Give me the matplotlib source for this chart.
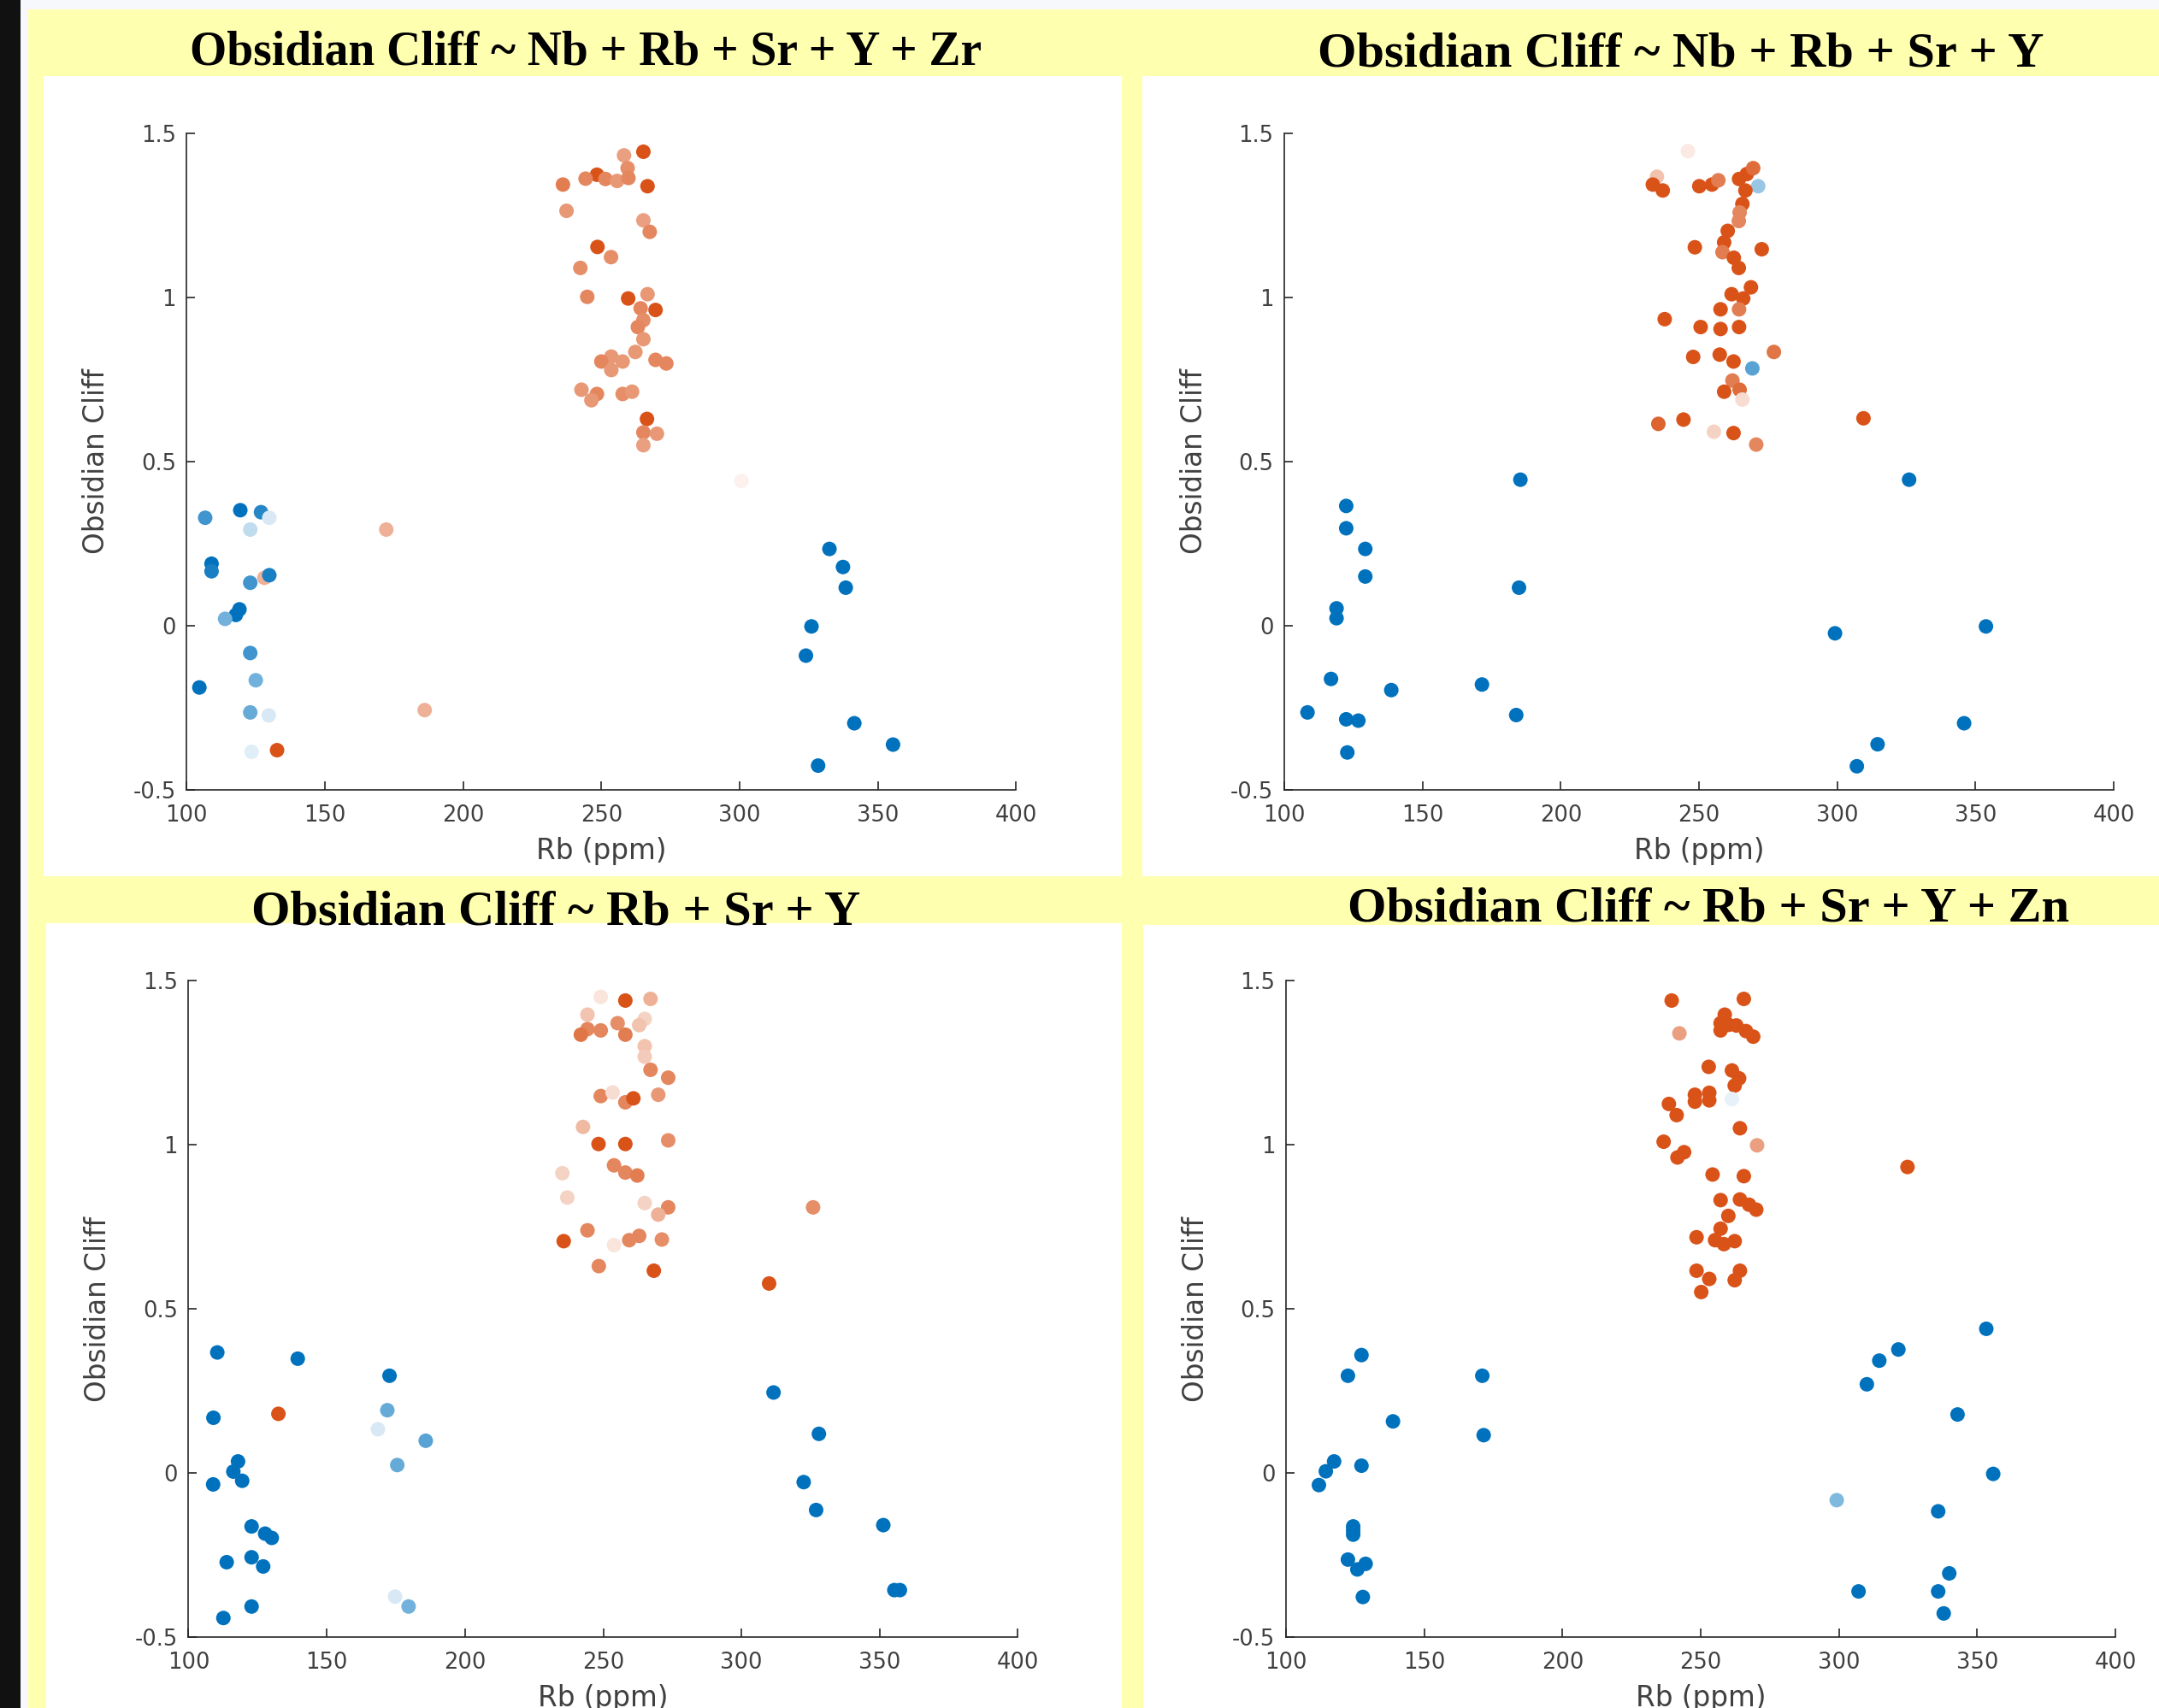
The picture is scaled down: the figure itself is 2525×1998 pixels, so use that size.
import matplotlib
matplotlib.use("Agg")
import matplotlib.pyplot as plt
from matplotlib.colors import LinearSegmentedColormap
from matplotlib.patches import Rectangle

W, H = 2525, 1998

# shared axis setup
rb_ticks = [100, 150, 200, 250, 300, 350, 400]
oc_ticks = [-0.5, 0, 0.5, 1, 1.5]
oc_tick_labels = ["-0.5", "0", "0.5", "1", "1.5"]

titles = [
    "Obsidian Cliff ~ Nb + Rb + Sr + Y + Zr",
    "Obsidian Cliff ~ Nb + Rb + Sr + Y",
    "Obsidian Cliff ~ Rb + Sr + Y",
    "Obsidian Cliff ~ Rb + Sr + Y + Zn",
]

# score: -1 = surely not Obsidian Cliff (blue), +1 = surely Obsidian Cliff (orange)

# panel 1
p1_rb = [265.2, 258.2, 259.5, 248.4, 244.3, 236.1, 251.5, 255.7, 259.8, 266.7,
         237.4, 265.2, 267.5, 248.6, 253.5, 242.4, 244.9, 259.7, 266.7, 269.6,
         264.2, 265.2, 263.2, 265.2, 262.3, 253.6, 250.0, 257.7, 253.6, 269.6,
         273.5, 242.8, 248.4, 246.4, 257.7, 261.1, 266.5, 265.2, 270.1, 265.2,
         300.7,
         106.7, 119.4, 126.9, 129.9, 123.0, 172.2, 109.0, 109.0, 128.1, 129.9,
         123.0, 119.1, 117.8, 113.9, 123.0, 125.0, 104.6, 123.0, 129.7, 186.1,
         123.5, 132.7,
         332.5, 337.4, 338.4, 326.0, 324.0, 341.5, 355.5, 328.4]
p1_oc = [1.444, 1.433, 1.394, 1.374, 1.362, 1.344, 1.361, 1.355, 1.364, 1.339,
         1.264, 1.235, 1.200, 1.154, 1.123, 1.090, 1.002, 0.997, 1.010, 0.962,
         0.967, 0.931, 0.910, 0.873, 0.834, 0.820, 0.805, 0.805, 0.779, 0.810,
         0.799, 0.719, 0.706, 0.687, 0.706, 0.713, 0.630, 0.589, 0.585, 0.550,
         0.441,
         0.329, 0.352, 0.346, 0.329, 0.293, 0.293, 0.189, 0.166, 0.146, 0.154,
         0.131, 0.050, 0.033, 0.021, -0.083, -0.166, -0.188, -0.264, -0.273, -0.257,
         -0.384, -0.379,
         0.234, 0.179, 0.116, -0.002, -0.091, -0.297, -0.362, -0.426]
p1_score = [1.0, 0.55, 0.65, 1.0, 0.7, 0.75, 0.7, 0.6, 0.7, 1.0,
            0.6, 0.55, 0.7, 1.0, 0.65, 0.65, 0.7, 1.0, 0.6, 1.0,
            0.7, 0.65, 0.7, 0.6, 0.6, 0.6, 0.7, 0.6, 0.6, 0.7,
            0.7, 0.6, 0.7, 0.6, 0.65, 0.6, 1.0, 0.7, 0.6, 0.55,
            0.08,
            -0.75, -1.0, -0.85, -0.15, -0.25, 0.45, -1.0, -0.9, 0.45, -0.9,
            -0.75, -1.0, -1.0, -0.55, -0.75, -0.55, -1.0, -0.6, -0.15, 0.45,
            -0.12, 1.0,
            -1, -1, -1, -1, -1, -1, -1, -1]

# panel 2
p2_rb = [246.0, 234.8, 233.3, 236.9, 250.1, 254.7, 257.0, 264.5, 267.3, 269.6,
         271.4, 266.8, 265.7, 264.7, 264.4, 260.4, 259.1, 258.5, 248.5, 272.7,
         262.6, 264.4, 268.8, 261.8, 266.0, 257.8, 264.5, 237.6, 250.6, 257.8,
         264.5, 277.1, 247.9, 257.5, 262.5, 269.3, 262.1, 259.1, 264.7, 265.7,
         235.3, 244.4, 255.4, 262.5, 270.7, 309.5,
         185.4, 184.9, 122.4, 122.4, 129.3, 129.3, 118.9, 118.9, 116.9, 108.4,
         122.4, 126.8, 138.7, 122.8, 171.5, 183.9,
         326.0, 299.2, 353.8, 345.9, 314.6, 307.1]
p2_oc = [1.446, 1.368, 1.344, 1.326, 1.339, 1.344, 1.357, 1.361, 1.376, 1.394,
         1.339, 1.326, 1.285, 1.259, 1.233, 1.203, 1.168, 1.138, 1.153, 1.147,
         1.121, 1.090, 1.031, 1.010, 0.997, 0.964, 0.964, 0.934, 0.910, 0.904,
         0.910, 0.834, 0.819, 0.826, 0.805, 0.784, 0.747, 0.713, 0.719, 0.689,
         0.615, 0.628, 0.591, 0.587, 0.552, 0.632,
         0.445, 0.116, 0.365, 0.297, 0.234, 0.150, 0.053, 0.023, -0.162, -0.264,
         -0.285, -0.289, -0.196, -0.386, -0.179, -0.272,
         0.445, -0.023, -0.002, -0.297, -0.361, -0.428]
p2_score = [0.12, 0.35, 1, 1, 1, 1, 0.75, 1, 1, 0.85,
            -0.4, 1, 1, 0.7, 0.7, 1, 1, 0.75, 1, 1,
            1, 1, 1, 1, 1, 1, 0.75, 1, 1, 1,
            1, 0.8, 1, 1, 1, -0.65, 0.75, 1, 0.85, 0.2,
            0.9, 1, 0.25, 1, 0.7, 1,
            -1, -1, -1, -1, -1, -1, -1, -1, -1, -1,
            -1, -1, -1, -1, -1, -1,
            -1, -1, -1, -1, -1, -1]

# panel 3
p3_rb = [249.1, 258.0, 267.1, 244.3, 265.0, 255.2, 244.3, 249.1, 241.9, 258.0,
         263.0, 265.0, 265.0, 267.1, 273.5, 249.1, 253.4, 258.0, 260.9, 269.9,
         242.7, 248.3, 258.0, 273.5, 253.9, 258.0, 262.3, 235.2, 237.0, 265.0,
         273.5, 269.9, 244.3, 235.7, 253.9, 259.4, 263.0, 271.2, 248.4, 268.3,
         325.9, 310.0,
         110.4, 139.5, 172.7, 109.0, 132.5, 171.9, 168.5, 185.8, 175.5, 117.9,
         116.2, 119.4, 108.9, 122.8, 127.7, 130.1, 122.8, 127.0, 113.8, 122.8,
         112.6, 174.7, 179.6,
         311.6, 328.0, 322.5, 327.0, 351.3, 355.3, 357.3]
p3_oc = [1.450, 1.439, 1.444, 1.396, 1.383, 1.370, 1.352, 1.348, 1.335, 1.335,
         1.364, 1.300, 1.268, 1.228, 1.204, 1.148, 1.159, 1.129, 1.141, 1.152,
         1.054, 1.002, 1.002, 1.013, 0.937, 0.915, 0.906, 0.913, 0.839, 0.822,
         0.809, 0.787, 0.739, 0.706, 0.694, 0.709, 0.722, 0.711, 0.630, 0.616,
         0.809, 0.577,
         0.367, 0.348, 0.296, 0.168, 0.180, 0.191, 0.133, 0.098, 0.024, 0.035,
         0.004, -0.024, -0.035, -0.163, -0.185, -0.198, -0.257, -0.285, -0.272, -0.407,
         -0.442, -0.377, -0.407,
         0.245, 0.119, -0.028, -0.113, -0.159, -0.357, -0.357]
p3_score = [0.15, 1, 0.45, 0.35, 0.25, 0.65, 0.7, 0.7, 0.8, 0.75,
            0.35, 0.35, 0.3, 0.7, 0.7, 0.7, 0.2, 0.7, 1, 0.6,
            0.4, 1, 1, 0.65, 0.7, 0.7, 0.75, 0.25, 0.25, 0.25,
            0.7, 0.45, 0.7, 1, 0.15, 0.7, 0.7, 0.65, 0.7, 1,
            0.65, 1,
            -1, -1, -1, -1, 1, -0.6, -0.15, -0.65, -0.6, -1,
            -1, -1, -1, -1, -1, -1, -1, -1, -1, -1,
            -1, -0.15, -0.55,
            -1, -1, -1, -1, -1, -1, -1]

# panel 4
p4_rb = [239.5, 265.6, 242.3, 258.7, 257.2, 257.2, 260.1, 262.9, 266.4, 269.0,
         252.9, 261.3, 263.9, 262.3, 247.9, 253.1, 247.9, 253.1, 261.3, 238.5,
         241.3, 264.2, 236.6, 270.4, 244.0, 241.6, 254.3, 265.6, 324.8, 257.2,
         264.2, 267.5, 270.1, 260.0, 257.2, 248.5, 255.2, 258.4, 262.3, 248.5,
         253.1, 250.2, 264.2, 262.3,
         127.3, 122.4, 138.7, 171.0, 171.5, 117.4, 114.4, 111.9, 127.3, 124.3,
         124.3, 124.3, 122.4, 125.8, 128.8, 127.8,
         299.2, 310.1, 314.6, 321.5, 353.3, 342.9, 355.8, 335.9, 339.9, 307.1,
         335.9, 337.9]
p4_oc = [1.439, 1.444, 1.339, 1.396, 1.370, 1.348, 1.365, 1.363, 1.346, 1.329,
         1.237, 1.226, 1.202, 1.180, 1.152, 1.158, 1.131, 1.135, 1.139, 1.124,
         1.090, 1.050, 1.009, 0.998, 0.977, 0.961, 0.909, 0.904, 0.932, 0.831,
         0.833, 0.817, 0.802, 0.783, 0.744, 0.718, 0.709, 0.697, 0.706, 0.616,
         0.591, 0.551, 0.616, 0.587,
         0.359, 0.296, 0.157, 0.296, 0.115, 0.035, 0.005, -0.037, 0.022, -0.163,
         -0.188, -0.175, -0.264, -0.294, -0.277, -0.378,
         -0.083, 0.270, 0.342, 0.376, 0.439, 0.178, -0.003, -0.117, -0.306, -0.361,
         -0.361, -0.428]
p4_score = [1, 1, 0.55, 1, 1, 1, 1, 1, 1, 1,
            1, 1, 1, 1, 1, 1, 1, 1, -0.1, 1,
            1, 1, 1, 0.55, 1, 1, 1, 1, 1, 1,
            1, 1, 1, 1, 1, 1, 1, 1, 1, 1,
            1, 1, 1, 1,
            -1, -1, -1, -1, -1, -1, -1, -1, -1, -1,
            -1, -1, -1, -1, -1, -1,
            -0.5, -1, -1, -1, -1, -1, -1, -1, -1, -1,
            -1, -1]

cmap = LinearSegmentedColormap.from_list("oc", ["#0072BD", "#FFFFFF", "#D95319"])

fig = plt.figure(figsize=(W / 100, H / 100), dpi=100, facecolor="#FFFFB0")


def px_rect(x0, y0, x1, y1, color):
    # rectangle given in image pixels (origin top-left)
    r = Rectangle((x0 / W, 1 - y1 / H), (x1 - x0) / W, (y1 - y0) / H,
                  transform=fig.transFigure, facecolor=color, edgecolor="none",
                  zorder=-5)
    fig.add_artist(r)


px_rect(0, 0, W, 11, "#F6F8FB")
px_rect(0, 0, 24, H, "#111111")
px_rect(24, 11, 33, H, "#F6F8FB")
px_rect(51, 89, 1312, 1025, "white")
px_rect(1336, 89, W, 1025, "white")
px_rect(54, 1080, 1312, H, "white")
px_rect(1337, 1082, W, H, "white")

# axes boxes in pixels: left, top, right, bottom
boxes = [(218.3, 156, 1188.3, 924),
         (1502, 156, 2472, 924),
         (220.5, 1147, 1190.5, 1915),
         (1504, 1147, 2474, 1915)]
title_pos = [(685, 76), (1966, 77), (650, 1081), (1998, 1077)]
title_size = [40, 42, 42, 42]
panels = [(p1_rb, p1_oc, p1_score), (p2_rb, p2_oc, p2_score),
          (p3_rb, p3_oc, p3_score), (p4_rb, p4_oc, p4_score)]

for (l, t, r, b), (rb, oc, sc), title, (tx, ty), ts in zip(boxes, panels, titles, title_pos, title_size):
    ax = fig.add_axes([l / W, 1 - b / H, (r - l) / W, (b - t) / H])
    ax.set_facecolor("none")
    ax.scatter(rb, oc, c=sc, cmap=cmap, vmin=-1, vmax=1, s=150, linewidths=0)
    ax.set_xlim(100, 400)
    ax.set_ylim(-0.5, 1.5)
    ax.set_xticks(rb_ticks)
    ax.set_yticks(oc_ticks)
    ax.set_yticklabels(oc_tick_labels)
    for side in ["top", "right"]:
        ax.spines[side].set_visible(False)
    for side in ["left", "bottom"]:
        ax.spines[side].set_color("#262626")
        ax.spines[side].set_linewidth(1.2)
    ax.tick_params(direction="in", length=7, width=1.2, colors="#262626",
                   labelcolor="#404040", labelsize=18.5)
    ax.tick_params(axis="x", pad=12)
    ax.tick_params(axis="y", pad=9)
    ax.set_xlabel("Rb (ppm)", fontsize=23.5, color="#404040")
    ax.set_ylabel("Obsidian Cliff", fontsize=23.5, color="#404040")
    ax.xaxis.set_label_coords(0.5, -0.072)
    ax.yaxis.set_label_coords(-0.092, 0.5)
    fig.text(tx / W, 1 - ty / H, title, ha="center", va="baseline",
             fontsize=ts, fontweight="bold", family="Liberation Serif", zorder=5)

fig.savefig("out.png", dpi=100)
